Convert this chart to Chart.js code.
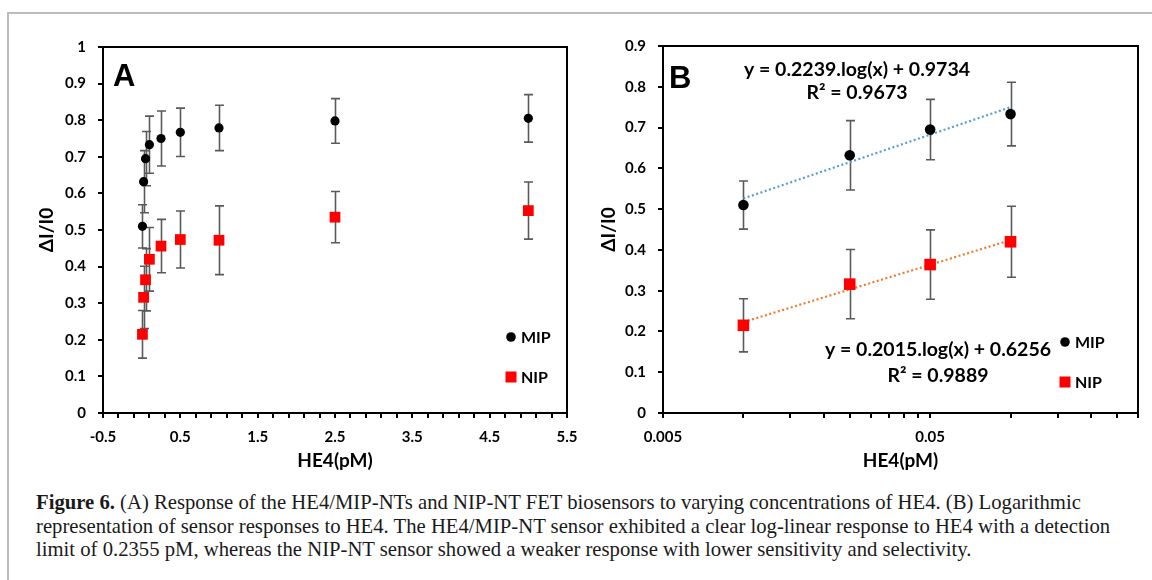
<!DOCTYPE html>
<html><head><meta charset="utf-8">
<script src="https://cdn.jsdelivr.net/npm/chart.js@4.4.1/dist/chart.umd.min.js"></script>
<style>
html,body{margin:0;padding:0;background:#fff;width:1152px;height:580px;overflow:hidden;}
#frame{position:absolute;left:7px;top:12px;width:1200px;height:600px;border-top:2px solid #bcbcbc;border-left:2px solid #bcbcbc;}
#wrapA{position:absolute;left:0;top:0;width:600px;height:480px;}
#wrapB{position:absolute;left:580px;top:0;width:572px;height:480px;}
#caption{position:absolute;left:36px;top:491px;font-family:"Liberation Serif",serif;font-size:20.7px;line-height:23.5px;white-space:nowrap;color:#1a1a1a;}
</style></head>
<body>
<div id="frame"></div>
<div id="wrapA"><canvas id="chartA" width="600" height="480"></canvas></div>
<div id="wrapB"><canvas id="chartB" width="572" height="480"></canvas></div>
<div id="caption"><b>Figure 6.</b> (A) Response of the HE4/MIP-NTs and NIP-NT FET biosensors to varying concentrations of HE4. (B) Logarithmic<br>representation of sensor responses to HE4. The HE4/MIP-NT sensor exhibited a clear log-linear response to HE4 with a detection<br>limit of 0.2355 pM, whereas the NIP-NT sensor showed a weaker response with lower sensitivity and selectivity.</div>
<script>
// ---- data ----
const concA = [0.01, 0.025, 0.05, 0.1, 0.25, 0.5, 1, 2.5, 5];
const mipA = [0.51, 0.632, 0.695, 0.733, 0.75, 0.767, 0.779, 0.798, 0.805];
const mipErrA = [0.059, 0.085, 0.074, 0.078, 0.075, 0.066, 0.062, 0.061, 0.065];
const nipA = [0.215, 0.316, 0.364, 0.42, 0.456, 0.474, 0.472, 0.535, 0.553];
const nipErrA = [0.065, 0.085, 0.085, 0.087, 0.073, 0.078, 0.094, 0.07, 0.078];

const concB = [0.01, 0.025, 0.05, 0.1];
const mipB = [0.51, 0.632, 0.695, 0.733];
const mipErrB = [0.059, 0.085, 0.074, 0.078];
const nipB = [0.215, 0.316, 0.364, 0.42];
const nipErrB = [0.065, 0.085, 0.085, 0.087];

const trendX = [0.01, 0.1];
const trendMIP = [0.526, 0.750];
const trendNIP = [0.223, 0.424];

const xMajorA = [-0.5, 0.5, 1.5, 2.5, 3.5, 4.5, 5.5];
const xMinorStepA = 0.2;
const xMajorB = [0.005, 0.05];
const xMinorB = [0.005, 0.01, 0.015, 0.02, 0.025, 0.03, 0.035, 0.04, 0.045, 0.05, 0.1, 0.15, 0.2, 0.25, 0.3];

const labelsLegend = ['MIP', 'NIP'];
const eqMIP = ['y = 0.2239.log(x) + 0.9734', 'R² = 0.9673'];
const eqNIP = ['y = 0.2015.log(x) + 0.6256', 'R² = 0.9889'];

// ---- style ----
const TICK_FONT = {family: 'Lato, "Liberation Sans", sans-serif', size: 15, weight: 'bold'};
const TITLE_FONT = {family: 'Lato, "Liberation Sans", sans-serif', size: 19, weight: 'bold'};
const ERR_COLOR = '#5a5a5a';

function pts(xs, ys) { return xs.map((x, i) => ({x: x, y: ys[i]})); }

const errorBarPlugin = {
  id: 'errbars',
  beforeDatasetsDraw(chart, args, opts) {
    const ctx = chart.ctx, xs = chart.scales.x, ys = chart.scales.y;
    ctx.save();
    ctx.strokeStyle = ERR_COLOR; ctx.lineWidth = 1.6;
    opts.sets.forEach(s => {
      s.x.forEach((xv, i) => {
        const px = Math.round(xs.getPixelForValue(xv)) + 0.5;
        const y1 = ys.getPixelForValue(s.y[i] - s.e[i]);
        const y2 = ys.getPixelForValue(s.y[i] + s.e[i]);
        ctx.beginPath();
        ctx.moveTo(px, y1); ctx.lineTo(px, y2);
        ctx.moveTo(px - 4.5, y1); ctx.lineTo(px + 4.5, y1);
        ctx.moveTo(px - 4.5, y2); ctx.lineTo(px + 4.5, y2);
        ctx.stroke();
      });
    });
    ctx.restore();
  }
};

const framePlugin = {
  id: 'frameDecor',
  afterDraw(chart, args, opts) {
    const ctx = chart.ctx, a = chart.chartArea;
    ctx.save();
    ctx.strokeStyle = '#000'; ctx.lineWidth = 2;
    ctx.strokeRect(a.left, a.top, a.right - a.left, a.bottom - a.top);
    // panel letter
    ctx.fillStyle = '#000';
    ctx.font = 'bold 31px "Liberation Sans", Arial, sans-serif';
    ctx.textAlign = 'left'; ctx.textBaseline = 'alphabetic';
    ctx.fillText(opts.letter, a.left + opts.letterDx, a.top + opts.letterDy);
    // legend
    const lg = opts.legend;
    ctx.font = 'bold 16px Lato, "Liberation Sans", sans-serif';
    ctx.textBaseline = 'middle';
    ctx.beginPath(); ctx.arc(a.right + lg.mx, a.top + lg.y1, 4.8, 0, Math.PI * 2); ctx.fill();
    ctx.fillText(labelsLegend[0], a.right + lg.tx, a.top + lg.y1 + 1);
    ctx.fillStyle = '#ff0000';
    ctx.fillRect(a.right + lg.mx - 5.5, a.top + lg.y2 - 5.5, 11, 11);
    ctx.fillStyle = '#000';
    ctx.fillText(labelsLegend[1], a.right + lg.tx, a.top + lg.y2 + 1);
    // equations
    if (opts.eqs) {
      ctx.font = 'bold 19.5px Lato, "Liberation Sans", sans-serif';
      ctx.textAlign = 'center';
      opts.eqs.forEach(q => {
        ctx.fillText(q.lines[0], a.left + q.dx, a.top + q.dy1);
        ctx.fillText(q.lines[1], a.left + q.dx, a.top + q.dy2);
      });
    }
    ctx.restore();
  }
};

function yAxis(max, width, titlePad) {
  return {
    type: 'linear', min: 0, max: max,
    afterFit(s) { s.width = width; },
    ticks: {stepSize: 0.1, color: '#000', font: TICK_FONT, padding: 12,
      callback: v => String(Number(v.toFixed(1)))},
    grid: {display: true, drawOnChartArea: false, drawTicks: true, tickLength: 5, color: '#000', lineWidth: 2},
    border: {display: true, color: '#000', width: 2},
    title: {display: true, text: 'ΔI/I0', color: '#000', font: TITLE_FONT, padding: {top: titlePad, bottom: 0}}
  };
}

function xTitle() {
  return {display: true, text: 'HE4(pM)', color: '#000', font: TITLE_FONT, padding: {top: 0, bottom: 1}};
}

// ---- Chart A ----
new Chart(document.getElementById('chartA'), {
  type: 'scatter',
  data: {datasets: [
    {label: 'MIP', data: pts(concA, mipA), pointStyle: 'circle', pointRadius: 4.6, backgroundColor: '#000', borderColor: '#000', borderWidth: 0},
    {label: 'NIP', data: pts(concA, nipA), pointStyle: 'rect', pointRadius: 7.6, backgroundColor: '#ff0000', borderColor: '#ff0000', borderWidth: 0}
  ]},
  options: {
    responsive: false, animation: false, events: [],
    layout: {padding: {left: 0, top: 47, right: 33, bottom: 7}},
    plugins: {legend: {display: false}, tooltip: {enabled: false},
      errbars: {sets: [{x: concA, y: mipA, e: mipErrA}, {x: concA, y: nipA, e: nipErrA}]},
      frameDecor: {letter: 'A', letterDx: 10, letterDy: 39, legend: {mx: -56, tx: -46, y1: 290, y2: 330}}
    },
    scales: {
      x: {type: 'linear', min: -0.5, max: 5.5,
        afterFit(s) { s.height = 60; },
        afterBuildTicks(s) {
          const t = [];
          for (let k = 0; k <= 30; k++) t.push({value: Math.round((xMajorA[0] + k * xMinorStepA) * 10) / 10});
          s.ticks = t;
        },
        ticks: {color: '#000', font: TICK_FONT, padding: 10, autoSkip: false, maxRotation: 0,
          callback: v => xMajorA.some(m => Math.abs(m - v) < 1e-9) ? String(v) : ''},
        grid: {display: true, drawOnChartArea: false, drawTicks: true, tickLength: 5, color: '#000', lineWidth: 2},
        border: {display: true, color: '#000', width: 2},
        title: xTitle()
      },
      y: yAxis(1, 103, 35.5)
    }
  },
  plugins: [errorBarPlugin, framePlugin]
});

// ---- Chart B ----
new Chart(document.getElementById('chartB'), {
  type: 'scatter',
  data: {datasets: [
    {label: 'MIP', data: pts(concB, mipB), pointStyle: 'circle', pointRadius: 5.3, backgroundColor: '#000', borderColor: '#000', borderWidth: 0},
    {label: 'NIP', data: pts(concB, nipB), pointStyle: 'rect', pointRadius: 8.2, backgroundColor: '#ff0000', borderColor: '#ff0000', borderWidth: 0},
    {type: 'line', label: 'MIP fit', data: pts(trendX, trendMIP), showLine: true, borderColor: '#5b9bd5', borderWidth: 2.2, borderDash: [2, 2.5], pointRadius: 0},
    {type: 'line', label: 'NIP fit', data: pts(trendX, trendNIP), showLine: true, borderColor: '#ed7d31', borderWidth: 2.2, borderDash: [2, 2.5], pointRadius: 0}
  ]},
  options: {
    responsive: false, animation: false, events: [],
    layout: {padding: {left: 0, top: 46, right: 14, bottom: 7}},
    plugins: {legend: {display: false}, tooltip: {enabled: false},
      errbars: {sets: [{x: concB, y: mipB, e: mipErrB}, {x: concB, y: nipB, e: nipErrB}]},
      frameDecor: {letter: 'B', letterDx: 6, letterDy: 42, legend: {mx: -73, tx: -63, y1: 296, y2: 336},
        eqs: [{lines: eqMIP, dx: 194, dy1: 24, dy2: 47}, {lines: eqNIP, dx: 275, dy1: 304, dy2: 330}]}
    },
    scales: {
      x: {type: 'logarithmic', min: 0.005, max: 0.3,
        afterFit(s) { s.height = 60; },
        afterBuildTicks(s) { s.ticks = xMinorB.map(v => ({value: v})); },
        ticks: {color: '#000', font: TICK_FONT, padding: 10, autoSkip: false, maxRotation: 0,
          callback: v => xMajorB.some(m => Math.abs(m - v) < 1e-9) ? String(v) : ''},
        grid: {display: true, drawOnChartArea: false, drawTicks: true, tickLength: 5, color: '#000', lineWidth: 2},
        border: {display: true, color: '#000', width: 2},
        title: xTitle()
      },
      y: yAxis(0.9, 83, 17.5)
    }
  },
  plugins: [errorBarPlugin, framePlugin]
});
</script>
</body></html>
